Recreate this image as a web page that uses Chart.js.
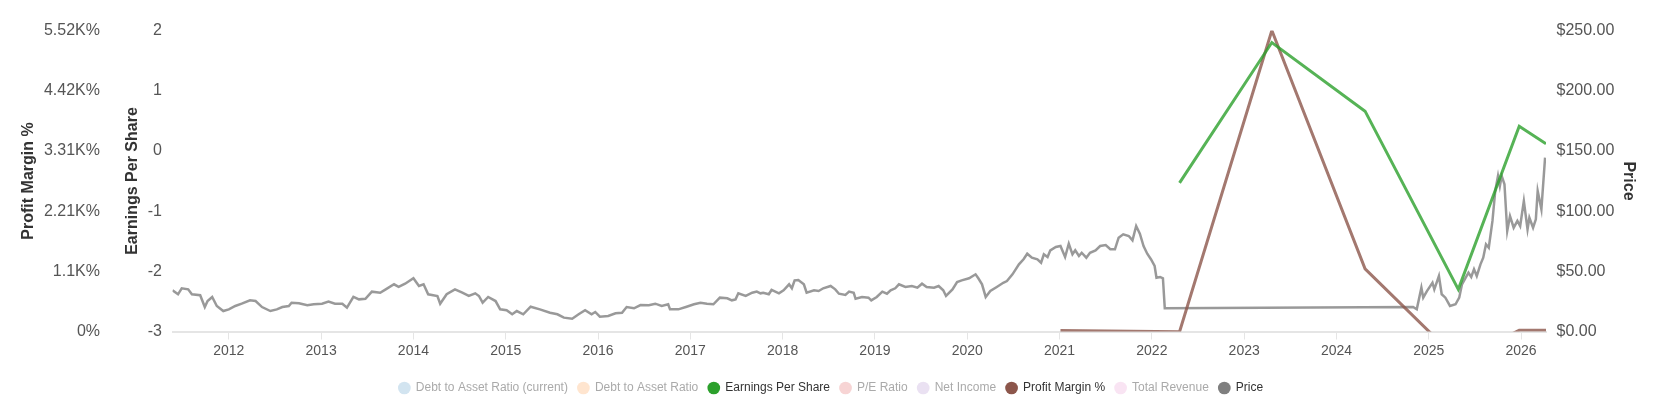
<!DOCTYPE html>
<html>
<head>
<meta charset="utf-8">
<script src="https://cdn.jsdelivr.net/npm/chart.js@4.4.0/dist/chart.umd.min.js"></script>
<style>
  body { margin: 0; background: #fff; }
</style>
</head>
<body>
<canvas id="myChart" width="1667" height="400"></canvas>
<script>
  // tick values / labels
  const yearTicks = [2012, 2013, 2014, 2015, 2016, 2017, 2018, 2019, 2020, 2021, 2022, 2023, 2024, 2025, 2026];
  const epsTicks = [-3, -2, -1, 0, 1, 2];
  const profitTicks = [0, 1104, 2208, 3312, 4416, 5520];
  const profitTickLabels = ['0%', '1.1K%', '2.21K%', '3.31K%', '4.42K%', '5.52K%'];
  const priceTicks = [0, 50, 100, 150, 200, 250];

  // legend entries (all series, only three have data shown)
  const seriesNames = ['Debt to Asset Ratio (current)', 'Debt to Asset Ratio', 'Earnings Per Share', 'P/E Ratio', 'Net Income', 'Profit Margin %', 'Total Revenue', 'Price'];
  const seriesColors = ['#1f77b4', '#ff7f0e', '#2ca02c', '#d62728', '#9467bd', '#8c564b', '#e377c2', '#7f7f7f'];
  const seriesShown = [false, false, true, false, false, true, false, true];

  // Earnings Per Share
  const epsDates = [2022.30, 2023.30, 2024.31, 2025.32, 2025.98, 2026.27];
  const epsValues = [-0.53, 1.80, 0.66, -2.30, 0.41, 0.12];

  // Profit Margin %
  const profitDates = [2021.01, 2022.30, 2023.30, 2024.31, 2025.32, 2025.98, 2026.27];
  const profitValues = [20, -5, 5520, 1148, -525, 22, 22];

  // Price
  const priceDates = [
    2011.39, 2011.45, 2011.49, 2011.56, 2011.60, 2011.69, 2011.74, 2011.77, 2011.82, 2011.87, 2011.94,
    2012.00, 2012.07, 2012.14, 2012.23, 2012.29, 2012.36, 2012.45, 2012.52, 2012.58, 2012.65, 2012.68, 2012.76, 2012.85, 2012.92,
    2013.01, 2013.08, 2013.15, 2013.23, 2013.28, 2013.35, 2013.41, 2013.48, 2013.55, 2013.64, 2013.70, 2013.79, 2013.84, 2013.91,
    2014.00, 2014.06, 2014.11, 2014.16, 2014.26, 2014.29, 2014.36, 2014.45, 2014.53, 2014.60, 2014.67, 2014.71, 2014.75, 2014.81, 2014.89, 2014.94,
    2015.01, 2015.07, 2015.12, 2015.19, 2015.27, 2015.37, 2015.48, 2015.56, 2015.63, 2015.72, 2015.79, 2015.86, 2015.93, 2015.97,
    2016.02, 2016.11, 2016.19, 2016.26, 2016.31, 2016.39, 2016.46, 2016.55, 2016.62, 2016.69, 2016.76, 2016.78, 2016.87, 2016.96,
    2017.04, 2017.11, 2017.18, 2017.25, 2017.32, 2017.40, 2017.45, 2017.49, 2017.52, 2017.60, 2017.67, 2017.72, 2017.76, 2017.79, 2017.85, 2017.88, 2017.96,
    2018.01, 2018.07, 2018.10, 2018.13, 2018.17, 2018.23, 2018.26, 2018.34, 2018.39, 2018.44, 2018.52, 2018.57, 2018.61, 2018.68, 2018.72, 2018.77, 2018.79, 2018.86, 2018.93, 2018.96,
    2019.02, 2019.08, 2019.13, 2019.17, 2019.22, 2019.26, 2019.33, 2019.40, 2019.46, 2019.51, 2019.56, 2019.64, 2019.69, 2019.74, 2019.77, 2019.84, 2019.89, 2019.94,
    2020.02, 2020.09, 2020.12, 2020.16, 2020.20, 2020.25, 2020.32, 2020.39, 2020.43, 2020.49, 2020.56, 2020.61, 2020.65, 2020.70, 2020.76, 2020.80, 2020.83, 2020.87, 2020.90, 2020.96,
    2021.01, 2021.06, 2021.10, 2021.14, 2021.17, 2021.21, 2021.24, 2021.29, 2021.33, 2021.39, 2021.44, 2021.50, 2021.55, 2021.60, 2021.64, 2021.69, 2021.75, 2021.79, 2021.83, 2021.87, 2021.91, 2021.95, 2021.99,
    2022.03, 2022.05, 2022.09, 2022.12, 2022.14,
    2024.83, 2024.87, 2024.92, 2024.94, 2024.98,
    2025.04, 2025.06, 2025.11, 2025.14, 2025.18, 2025.23, 2025.29, 2025.33, 2025.36, 2025.40, 2025.43, 2025.46, 2025.49, 2025.52, 2025.56, 2025.59, 2025.62, 2025.65, 2025.69, 2025.72, 2025.75, 2025.77, 2025.79, 2025.82, 2025.85, 2025.88, 2025.92, 2025.96, 2025.99,
    2026.03, 2026.07, 2026.09, 2026.13, 2026.16, 2026.18, 2026.22, 2026.26
  ];
  const priceValues = [
    34.2, 30.9, 35.9, 35.0, 30.9, 30.1, 20.3, 25.3, 28.7, 21.2, 17.0,
    18.4, 21.2, 23.1, 25.9, 25.3, 20.3, 17.0, 18.4, 20.3, 21.2, 23.9, 23.4, 21.8, 22.6,
    23.1, 24.8, 23.1, 23.1, 19.8, 28.7, 26.7, 27.2, 33.1, 32.2, 35.0, 39.2, 37.0, 39.7,
    44.2, 37.8, 39.2, 30.9, 29.5, 23.1, 30.9, 35.0, 32.2, 29.5, 31.7, 29.5, 23.9, 28.7, 25.3, 18.4,
    17.6, 14.3, 17.0, 14.3, 20.6, 18.4, 15.6, 14.3, 11.5, 10.6, 14.3, 17.6, 14.3, 16.2,
    12.3, 12.9, 15.1, 15.6, 20.3, 19.3, 22.0, 21.8, 23.1, 21.2, 22.6, 18.4, 18.4, 20.6,
    22.6, 23.9, 23.1, 22.6, 28.1, 27.6, 25.9, 26.7, 31.7, 29.5, 32.2, 33.1, 31.7, 32.2, 30.9, 34.5, 31.7,
    34.2, 39.2, 35.9, 42.5, 42.8, 39.2, 32.2, 34.2, 33.6, 35.9, 37.8, 35.0, 31.4, 30.3, 33.1, 32.2, 27.2, 28.7, 28.1, 25.9,
    28.7, 33.1, 31.4, 34.2, 35.9, 39.2, 37.0, 37.8, 36.4, 39.7, 37.0, 36.4, 37.8, 34.2, 29.5, 35.0, 41.1, 42.5,
    44.2, 47.5, 44.2, 39.2, 28.7, 33.6, 37.0, 40.5, 41.9, 47.5, 55.8, 60.0, 64.6, 61.3, 60.0, 57.1, 64.1, 61.9, 67.4, 70.2,
    71.0, 61.9, 72.9, 64.1, 67.4, 62.7, 65.4, 61.3, 65.4, 67.4, 71.0, 71.8, 68.3, 68.3, 77.9, 80.7, 79.3, 75.7, 87.6, 81.2, 71.0, 64.6, 60.0,
    54.4, 44.7, 45.3, 44.2, 19.3,
    20.3, 18.4, 36.4, 28.1, 33.6,
    40.5, 35.0, 46.1, 30.9, 28.1, 21.2, 22.6, 28.1, 39.2, 44.7, 48.8, 45.3, 51.7, 46.1, 55.8, 61.3, 72.4, 69.6, 91.8, 116.7, 129.2, 120.8, 129.2, 122.3, 83.5, 95.9, 86.2, 91.8, 87.6,
    108.4, 84.9, 94.5, 86.2, 93.2, 116.7, 101.5, 144.4
  ];

  const toPoints = (xs, ys) => xs.map((x, i) => ({ x: x, y: ys[i] }));
  const fade = (hex, a) => {
    const n = parseInt(hex.slice(1), 16);
    return 'rgba(' + (n >> 16) + ',' + ((n >> 8) & 255) + ',' + (n & 255) + ',' + a + ')';
  };

  const seriesData = {
    'Earnings Per Share': { data: toPoints(epsDates, epsValues), axis: 'yEps' },
    'Profit Margin %': { data: toPoints(profitDates, profitValues), axis: 'yProfit' },
    'Price': { data: toPoints(priceDates, priceValues), axis: 'yPrice' }
  };

  const datasets = seriesNames.map((name, i) => {
    const s = seriesData[name];
    return {
      label: name,
      data: s ? s.data : [],
      yAxisID: s ? s.axis : 'yPrice',
      borderColor: fade(seriesColors[i], 0.8),
      backgroundColor: seriesColors[i],
      borderWidth: name === 'Price' ? 2.5 : 3,
      pointRadius: 0,
      tension: 0,
      fill: false
    };
  });

  const tickFont = { family: 'Liberation Sans, Arial, sans-serif', size: 16 };
  const titleFont = { family: 'Liberation Sans, Arial, sans-serif', size: 16, weight: 'bold' };

  const ctx = document.getElementById('myChart').getContext('2d');

  const myChart = new Chart(ctx, {
    type: 'line',
    data: { datasets: datasets },
    options: {
      responsive: false,
      animation: false,
      layout: { padding: { left: 15, right: 20, top: 30.5, bottom: -4 } },
      plugins: {
        tooltip: { enabled: false },
        legend: {
          position: 'bottom',
          labels: {
            usePointStyle: true,
            boxWidth: 11,
            boxHeight: 9,
            font: { family: 'Liberation Sans, Arial, sans-serif', size: 12 },
            padding: 10,
            generateLabels: chart => chart.data.datasets.map((ds, i) => ({
              text: ds.label,
              fillStyle: seriesShown[i] ? seriesColors[i] : fade(seriesColors[i], 0.2),
              strokeStyle: seriesShown[i] ? seriesColors[i] : fade(seriesColors[i], 0.2),
              fontColor: seriesShown[i] ? '#333' : '#aaa',
              lineWidth: 0,
              pointStyle: 'circle',
              hidden: false,
              datasetIndex: i
            }))
          }
        }
      },
      scales: {
        x: {
          type: 'linear',
          min: 2011.39,
          max: 2026.27,
          grid: { drawOnChartArea: false, color: '#e5e5e5', tickLength: 8 },
          border: { color: '#e5e5e5', width: 2 },
          afterBuildTicks: s => { s.ticks = yearTicks.map(v => ({ value: v })); },
          afterFit: s => { s.height = 40.5; },
          ticks: {
            color: '#555',
            font: { family: 'Liberation Sans, Arial, sans-serif', size: 14 },
            autoSkip: false,
            maxRotation: 0,
            callback: v => String(v)
          }
        },
        yEps: {
          position: 'left',
          weight: 0,
          min: -3,
          max: 2,
          grid: { display: false, drawTicks: false },
          border: { display: false },
          afterBuildTicks: s => { s.ticks = epsTicks.map(v => ({ value: v })); },
          afterFit: s => { s.width = 69.5; },
          ticks: { padding: 10.5, color: '#555', font: tickFont, callback: v => String(v) },
          title: { display: true, text: 'Earnings Per Share', color: '#333', font: titleFont, padding: { top: 20, bottom: 0 } }
        },
        yProfit: {
          position: 'left',
          weight: 1,
          min: 0,
          max: 5520,
          grid: { display: false, drawTicks: false },
          border: { display: false },
          afterBuildTicks: s => { s.ticks = profitTicks.map(v => ({ value: v })); },
          afterFit: s => { s.width = 88; },
          ticks: { padding: 3, color: '#555', font: tickFont, callback: (v, i) => profitTickLabels[i] },
          title: { display: true, text: 'Profit Margin %', color: '#333', font: titleFont, padding: { top: 4, bottom: 0 } }
        },
        yPrice: {
          position: 'right',
          min: 0,
          max: 250,
          grid: { display: false, drawTicks: false },
          border: { display: false },
          afterBuildTicks: s => { s.ticks = priceTicks.map(v => ({ value: v })); },
          afterFit: s => { s.width = 101; },
          ticks: { padding: 10.5, color: '#555', font: tickFont, callback: v => '$' + v.toFixed(2) },
          title: { display: true, text: 'Price', color: '#333', font: titleFont, padding: { top: 8.5, bottom: 0 } }
        }
      }
    }
  });
</script>
</body>
</html>
